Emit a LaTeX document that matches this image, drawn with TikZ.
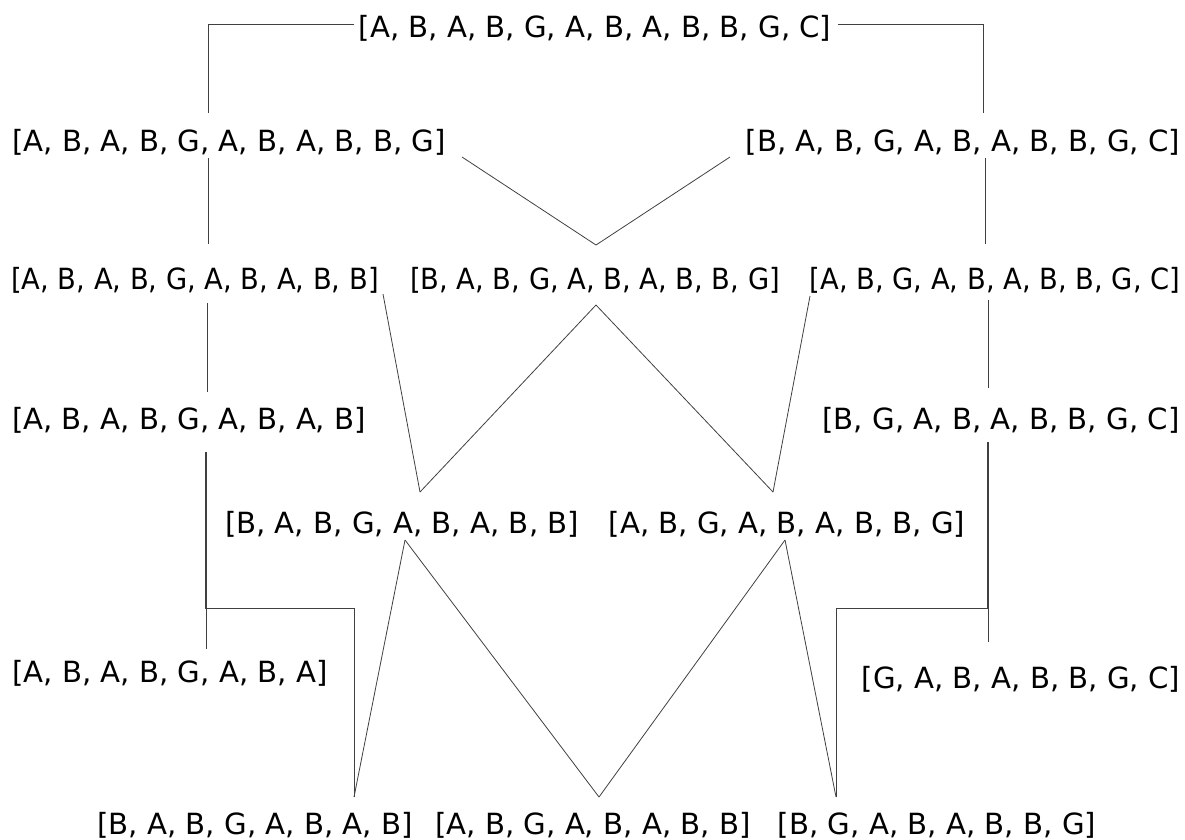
\documentclass[tikz,border=0pt]{standalone}
\usepackage{fontspec}
\setmainfont{DejaVu Sans}
\usepackage{graphicx}
\tikzset{
  lbl/.style={inner sep=0pt, anchor=base, font=\fontsize{29.2}{35}\selectfont},
  link/.style={draw=black!75, line width=0.8pt},
}
% the ten-element lists are set slightly condensed
\newcommand{\tight}[1]{\scalebox{0.936}[1]{#1}}

\begin{document}
\begin{tikzpicture}[x=1pt,y=-1pt]
\useasboundingbox (0,0) rectangle (1185,839);

% ---- lists, level by level ----
\node[lbl] (n0)  at (595,37)   {[A, B, A, B, G, A, B, A, B, B, G, C]};

\node[lbl] (n1L) at (229,151)  {[A, B, A, B, G, A, B, A, B, B, G]};
\node[lbl] (n1R) at (963,151)  {[B, A, B, G, A, B, A, B, B, G, C]};

\node[lbl] (n2L) at (195,289)  {\tight{[A, B, A, B, G, A, B, A, B, B]}};
\node[lbl] (n2M) at (595,289)  {\tight{[B, A, B, G, A, B, A, B, B, G]}};
\node[lbl] (n2R) at (995,289)  {\tight{[A, B, G, A, B, A, B, B, G, C]}};

\node[lbl] (n3L) at (189,429)  {[A, B, A, B, G, A, B, A, B]};
\node[lbl] (n3R) at (1001,429) {[B, G, A, B, A, B, B, G, C]};

\node[lbl] (n4L) at (402,533)  {[B, A, B, G, A, B, A, B, B]};
\node[lbl] (n4R) at (787,533)  {[A, B, G, A, B, A, B, B, G]};

\node[lbl] (n5L) at (170,682)  {[A, B, A, B, G, A, B, A]};
\node[lbl] (n5R) at (1021,688) {[G, A, B, A, B, B, G, C]};

\node[lbl] (n6L) at (255,834)  {[B, A, B, G, A, B, A, B]};
\node[lbl] (n6M) at (593,834)  {[A, B, G, A, B, A, B, B]};
\node[lbl] (n6R) at (937,834)  {[B, G, A, B, A, B, B, G]};

% ---- end points of the links ----
\coordinate (n0-w)   at (354,24);
\coordinate (n0-e)   at (838,24);
\coordinate (n1L-n)  at (208,113);
\coordinate (n1R-n)  at (983,113);
\coordinate (n1L-s)  at (208,158);
\coordinate (n1L-se) at (462,157);
\coordinate (n1R-sw) at (730,157);
\coordinate (n1R-s)  at (985,158);
\coordinate (n2L-n)  at (208,244);
\coordinate (n2M-n)  at (596,245);
\coordinate (n2R-n)  at (985,244);
\coordinate (n2L-s)  at (207,303);
\coordinate (n2L-se) at (383,294);
\coordinate (n2M-s)  at (596,305);
\coordinate (n2R-sw) at (810,296);
\coordinate (n2R-s)  at (988,300);
\coordinate (n3L-n)  at (207,392);
\coordinate (n3R-n)  at (988,388);
\coordinate (n3L-s)  at (206,452);
\coordinate (n3L-s2) at (205,452);
\coordinate (n3R-s)  at (988,442);
\coordinate (n3R-s2) at (987,442);
\coordinate (n4L-n)  at (420,492);
\coordinate (n4R-n)  at (773,492);
\coordinate (n4L-s)  at (405,540);
\coordinate (n4R-s)  at (785,540);
\coordinate (n5L-n)  at (206,649);
\coordinate (n5R-n)  at (988,642);
\coordinate (kL)     at (205,608);
\coordinate (kR)     at (987,608);
\coordinate (n6L-n)  at (354,797);
\coordinate (n6M-n)  at (599,797);
\coordinate (n6R-n)  at (836,797);

% ---- links ----
\draw[link] (n0-w) -| (n1L-n);
\draw[link] (n0-e) -| (n1R-n);
\draw[link] (n1L-s) -- (n2L-n);
\draw[link] (n1L-se) -- (n2M-n);
\draw[link] (n1R-sw) -- (n2M-n);
\draw[link] (n1R-s) -- (n2R-n);
\draw[link] (n2L-s) -- (n3L-n);
\draw[link] (n2L-se) -- (n4L-n);
\draw[link] (n2M-s) -- (n4L-n);
\draw[link] (n2M-s) -- (n4R-n);
\draw[link] (n2R-sw) -- (n4R-n);
\draw[link] (n2R-s) -- (n3R-n);
\draw[link] (n3L-s) -- (n5L-n);
\draw[link] (n3L-s2) -- (kL) -| (n6L-n);
\draw[link] (n3R-s) -- (n5R-n);
\draw[link] (n3R-s2) -- (kR) -| (n6R-n);
\draw[link] (n4L-s) -- (n6L-n);
\draw[link] (n4L-s) -- (n6M-n);
\draw[link] (n4R-s) -- (n6M-n);
\draw[link] (n4R-s) -- (n6R-n);
\end{tikzpicture}
\end{document}
